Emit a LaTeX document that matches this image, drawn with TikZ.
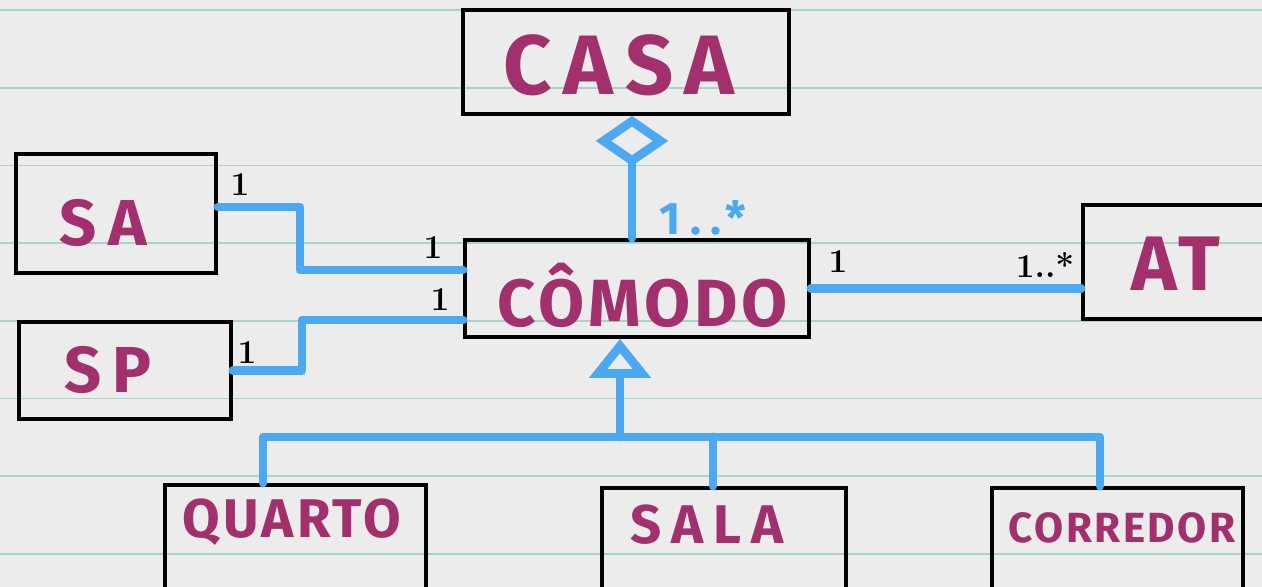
\documentclass[tikz,border=0pt]{standalone}
\usepackage{fontspec}
\newfontfamily\hand{Fira Sans}[LetterSpace=6]
\usepackage{tikz}
\usetikzlibrary{arrows.meta}

\definecolor{paper}{HTML}{ECECEC}
\definecolor{ruling}{HTML}{A6D4C6}
\definecolor{ink}{HTML}{A2306C}
\definecolor{pen}{HTML}{4DA8F2}

\begin{document}
\begin{tikzpicture}[x=0.02cm,y=-0.02cm,
	cls/.style={draw=black, line width=2.2pt, inner sep=0pt},
	clsname/.style={text=ink, font=\hand\bfseries, inner sep=0pt},
	assoc/.style={draw=pen, line width=5pt, line join=round, line cap=round},
	mult/.style={font=\bfseries\fontsize{19}{19}\selectfont, inner sep=0pt}]
	
	% paper
	\useasboundingbox (0,0) rectangle (1262,587);
	\clip (0,0) rectangle (1262,587);
	\fill[paper] (0,0) rectangle (1262,587);
	\foreach \i in {0,...,7}
		\draw[ruling, line width=1pt] (0,10+77.7*\i) -- (1262,10+77.7*\i);
	
	% classes
	\node[cls, minimum width=6.52cm, minimum height=2.08cm] (casa) at (626,62) {};
	\node[cls, minimum width=4.0cm, minimum height=2.38cm] (sa) at (116,213.5) {};
	\node[cls, minimum width=6.88cm, minimum height=1.94cm] (comodo) at (637,288.5) {};
	\node[cls, minimum width=3.84cm, minimum height=2.28cm] (at) at (1179,262) {};
	\node[cls, minimum width=4.24cm, minimum height=1.94cm] (sp) at (125,370.5) {};
	\node[cls, minimum width=5.22cm, minimum height=2.3cm] (quarto) at (295.5,542.5) {};
	\node[cls, minimum width=4.88cm, minimum height=2.24cm] (sala) at (724,544) {};
	\node[cls, minimum width=5.02cm, minimum height=2.24cm] (corredor) at (1117.5,544) {};
	
	\node[clsname, font=\hand\bfseries\fontsize{48}{48}\selectfont\addfontfeature{LetterSpace=14}] (casaname) at (619,65) {CASA};
	\node[clsname, font=\hand\bfseries\fontsize{37}{37}\selectfont\addfontfeature{LetterSpace=18}] (saname) at (103,223) {SA};
	\node[clsname, font=\hand\bfseries\fontsize{38}{38}\selectfont] (comodoname) at (643,295) {CÔMODO};
	\node[clsname, font=\hand\bfseries\fontsize{44}{44}\selectfont] (atname) at (1176,264) {AT};
	\node[clsname, font=\hand\bfseries\fontsize{37}{37}\selectfont\addfontfeature{LetterSpace=18}] (spname) at (108,370) {SP};
	\node[clsname, font=\hand\bfseries\fontsize{31}{31}\selectfont] (quartoname) at (292,522) {QUARTO};
	\node[clsname, font=\hand\bfseries\fontsize{31}{31}\selectfont\addfontfeature{LetterSpace=18}] (salaname) at (707,525) {SALA};
	\node[clsname, font=\hand\bfseries\fontsize{24}{24}\selectfont] (corredorname) at (1122,528) {CORREDOR};
	
	% associations
	\draw[assoc] ([yshift=0.13cm]sa.east) -- ++(82,0) |- ([yshift=0.37cm]comodo.west);
	\draw[assoc] (sp.east) -- ++(69,0) |- ([yshift=-0.63cm]comodo.west);
	\draw[assoc] (comodo.east) -- (comodo.east -| at.west);
	
	% aggregation
	\draw[assoc, -{Diamond[open, length=1.0cm, width=1.45cm, line width=5pt]}]
		([xshift=0.12cm]casa.south |- comodo.north) -- ([xshift=0.12cm]casa.south);
	
	% generalization
	\coordinate (bus) at (620,437);
	\coordinate (busl) at (263,437);
	\coordinate (busr) at (1100,437);
	\draw[assoc, -{Triangle[open, length=0.78cm, width=1.2cm, line width=5pt]}]
		(bus) -- (bus |- comodo.south);
	\draw[assoc] (busl |- quarto.north) -- (busl) -- (busr) -- (busr |- corredor.north);
	\draw[assoc] ([xshift=-0.22cm]sala.north) -- ([xshift=-0.22cm]sala.north |- bus);
	
	% multiplicities
	\node[mult] (m1) at (240,185) {1};
	\node[mult] (m2) at (433,248) {1};
	\node[mult] (m3) at (247,353) {1};
	\node[mult] (m4) at (440,300) {1};
	\node[mult] (m5) at (838,262) {1};
	\node[mult] (m6) at (1045,265) {1..*};
	\node[mult, text=pen, font=\hand\bfseries\fontsize{26}{26}\selectfont\addfontfeature{LetterSpace=20}] (m7) at (703,218) {1..*};
\end{tikzpicture}
\end{document}
